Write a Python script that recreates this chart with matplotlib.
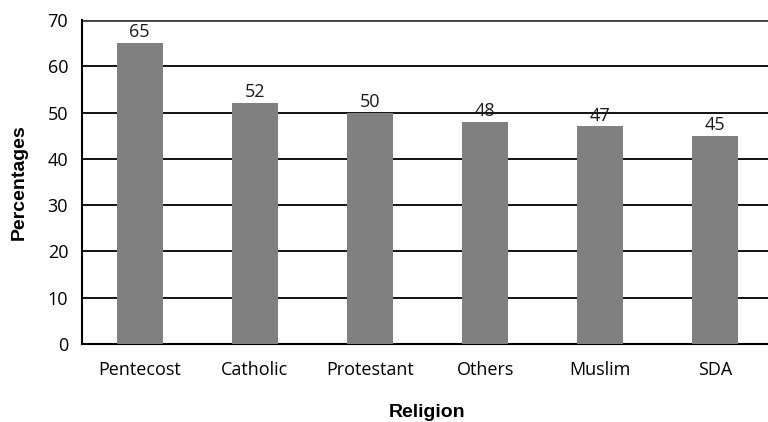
import matplotlib.pyplot as plt

religions = ["Pentecost", "Catholic", "Protestant", "Others", "Muslim", "SDA"]
percentages = [65, 52, 50, 48, 47, 45]
y_ticks = [0, 10, 20, 30, 40, 50, 60, 70]

fig = plt.figure(figsize=(7.68, 4.22), dpi=100)
ax = fig.add_axes([0.1068, 0.1848, 0.8997, 0.7678])
ax.set_axisbelow(True)

x = range(len(religions))
bars = ax.bar(x, percentages, width=0.4, color="#808080", zorder=3)
for b, v in zip(bars, percentages):
    ax.text(b.get_x() + b.get_width() / 2, v + 0.4, str(v), ha="center", va="bottom",
            fontsize=13, family="Open Sans", color="#1a1a1a")

ax.set_xlim(-0.5, len(religions) - 0.5)
ax.set_ylim(0, 70)
ax.set_yticks(y_ticks)
ax.set_xticks(list(x))
ax.set_xticklabels(religions, family="Open Sans", fontsize=13)
ax.set_yticklabels([str(t) for t in y_ticks], family="Open Sans", fontsize=13)
ax.tick_params(length=0, pad=10)
ax.tick_params(axis="x", pad=12)
ax.yaxis.grid(True, color="black", linewidth=1.3, zorder=0)
top_line = ax.get_ygridlines()[-1]
top_line.set_color("#404040")
top_line.set_linewidth(2)
for s in ["top", "right"]:
    ax.spines[s].set_visible(False)
ax.spines["left"].set_linewidth(1.5)
ax.spines["bottom"].set_linewidth(1.5)

ax.set_xlabel("Religion", family="Liberation Sans", fontweight="bold", fontsize=14, labelpad=18)
ax.set_ylabel("Percentages", family="Liberation Sans", fontweight="bold", fontsize=14, labelpad=14)

fig.savefig("out.png", dpi=100)
